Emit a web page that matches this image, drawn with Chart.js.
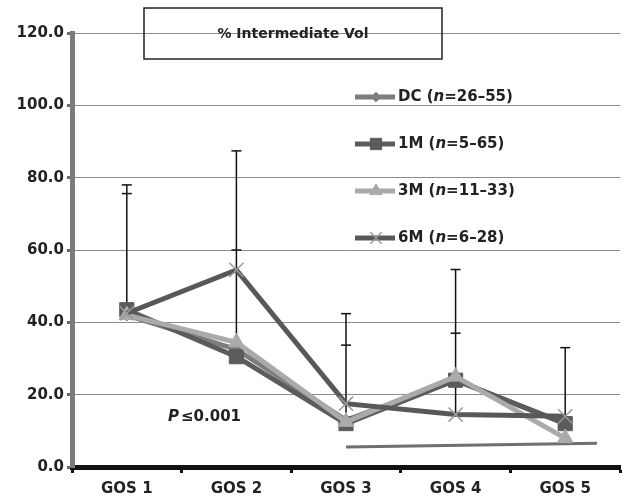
<!DOCTYPE html>
<html>
<head>
<meta charset="utf-8">
<script src="https://cdn.jsdelivr.net/npm/chart.js@4/dist/chart.umd.min.js"></script>
<style>
  html, body { margin: 0; padding: 0; background: #fff; }
  #wrap { width: 625px; height: 502px; }
</style>
</head>
<body>
<div id="wrap"><canvas id="myChart" width="625" height="502"></canvas></div>
<script>
const categories = ['GOS 1', 'GOS 2', 'GOS 3', 'GOS 4', 'GOS 5'];

const dcValues = [42.0, 32.5, 13.0, 24.0, 12.0];
const m1Values = [43.5, 30.5, 12.0, 24.0, 12.0];
const m3Values = [42.0, 34.5, 12.5, 25.0, 8.0];
const m6Values = [42.5, 54.5, 17.5, 14.5, 14.0];

const seriesNames = ['DC', '1M', '3M', '6M'];
const seriesRanges = ['26–55', '5–65', '11–33', '6–28'];

// error bars: where the stem starts and the caps above it
const errBase = [43, 36, 15, 15, 14];
const errCaps = [[78, 75.6], [87.4, 60], [42.4, 33.7], [54.6, 37], [33]];

// flat line along the bottom (x in category units)
const baseLineX = [2.0, 4.29];
const baseLineY = [5.5, 6.6];

const yTicks = [0, 20, 40, 60, 80, 100, 120];

const FONT = '"DejaVu Sans", "Liberation Sans", Arial, sans-serif';

const colors = ['#7d7d7d', '#5c5c5c', '#aaaaaa', '#585858'];
const styles = ['rectRot', 'rect', 'triangle', 'crossRot'];
const radii = [6, 10, 9, 10];

const makeSet = (i, data) => ({
    label: seriesNames[i],
    data: data,
    borderColor: colors[i],
    backgroundColor: colors[i],
    borderWidth: 5,
    pointStyle: styles[i],
    pointRadius: radii[i],
    pointBorderWidth: i === 3 ? 1.5 : 1,
    pointBorderColor: i === 3 ? '#9a9a9a' : colors[i],
    pointBackgroundColor: colors[i],
    tension: 0,
    clip: false,
    order: [3, 2, 1, 0][i]
});

const errorBars = {
    id: 'errorBars',
    beforeDatasetsDraw(chart) {
        const {ctx, scales: {x, y}} = chart;
        ctx.save();
        ctx.strokeStyle = '#111';
        ctx.lineWidth = 1.5;
        categories.forEach((c, i) => {
            const px = x.getPixelForValue(i);
            const top = Math.max(...errCaps[i]);
            ctx.beginPath();
            ctx.moveTo(px, y.getPixelForValue(errBase[i]));
            ctx.lineTo(px, y.getPixelForValue(top));
            ctx.stroke();
            errCaps[i].forEach((v) => {
                const py = y.getPixelForValue(v);
                ctx.beginPath();
                ctx.moveTo(px - 5, py);
                ctx.lineTo(px + 5, py);
                ctx.stroke();
            });
        });
        ctx.restore();
    }
};

const annotations = {
    id: 'annotations',
    afterDraw(chart) {
        const {ctx} = chart;
        ctx.save();
        // title box
        ctx.strokeStyle = '#222';
        ctx.lineWidth = 1.5;
        ctx.strokeRect(144, 8, 298, 51);
        ctx.fillStyle = '#222';
        ctx.font = 'bold 14px ' + FONT;
        ctx.textAlign = 'center';
        ctx.textBaseline = 'middle';
        ctx.fillText('% Intermediate Vol', 293, 34);

        // P value
        ctx.textAlign = 'left';
        ctx.font = 'italic bold 15px ' + FONT;
        ctx.fillText('P', 168, 417);
        const pw = ctx.measureText('P').width;
        ctx.font = 'bold 15px ' + FONT;
        ctx.fillText('≤0.001', 168 + pw + 2, 417);

        // legend
        const rowsY = [97, 144, 191, 238];
        seriesNames.forEach((name, i) => {
            const yy = rowsY[i];
            ctx.strokeStyle = colors[i];
            ctx.lineWidth = 5;
            ctx.beginPath();
            ctx.moveTo(355, yy);
            ctx.lineTo(395, yy);
            ctx.stroke();
            ctx.fillStyle = colors[i];
            ctx.strokeStyle = i === 3 ? '#9a9a9a' : colors[i];
            ctx.lineWidth = i === 3 ? 1.5 : 1;
            Chart.helpers.drawPoint(ctx, {pointStyle: styles[i], radius: radii[i] * 0.8, rotation: 0, borderWidth: ctx.lineWidth}, 376, yy);

            ctx.fillStyle = '#222';
            ctx.textBaseline = 'middle';
            let tx = 398;
            const parts = [['bold', name + ' ('], ['italic bold', 'n'], ['bold', '=' + seriesRanges[i] + ')']];
            parts.forEach(([w, t]) => {
                ctx.font = w + ' 15px ' + FONT;
                ctx.fillText(t, tx, yy);
                tx += ctx.measureText(t).width;
            });
        });
        ctx.restore();
    }
};

const ctx = document.getElementById('myChart').getContext('2d');
const chart = new Chart(ctx, {
    type: 'line',
    data: {
        labels: categories,
        datasets: [
            makeSet(0, dcValues),
            makeSet(1, m1Values),
            makeSet(2, m3Values),
            makeSet(3, m6Values),
            {
                label: 'base',
                data: baseLineX.map((v, i) => ({x: v, y: baseLineY[i]})),
                xAxisID: 'x2',
                borderColor: '#6f6f6f',
                borderWidth: 3,
                pointRadius: 0,
                order: 5
            }
        ]
    },
    options: {
        responsive: false,
        animation: false,
        layout: { autoPadding: false, padding: { top: 33, right: 5, left: 0, bottom: 0 } },
        plugins: { legend: { display: false }, tooltip: { enabled: false } },
        scales: {
            x: {
                offset: true,
                grid: { drawOnChartArea: false, tickLength: 6, tickColor: '#111', tickWidth: 3, offset: true },
                border: { color: '#111', width: 5 },
                ticks: { color: '#222', font: { family: FONT, size: 15, weight: 'bold' }, padding: 7, maxRotation: 0 },
                afterFit: (s) => { s.height = 35; }
            },
            x2: {
                type: 'linear',
                display: false,
                min: -0.5,
                max: 4.5
            },
            y: {
                min: 0,
                max: 120,
                afterBuildTicks: (s) => { s.ticks = yTicks.map((v) => ({value: v})); },
                grid: { color: '#8c8c8c', lineWidth: 1, tickLength: 5, tickColor: '#6a6a6a', tickWidth: 3 },
                border: { color: '#7a7a7a', width: 5 },
                ticks: { color: '#222', font: { family: FONT, size: 15, weight: 'bold' }, padding: 3, callback: (v) => v.toFixed(1) },
                afterFit: (s) => { s.width = 72; }
            }
        }
    },
    plugins: [errorBars, annotations]
});
</script>
</body>
</html>
